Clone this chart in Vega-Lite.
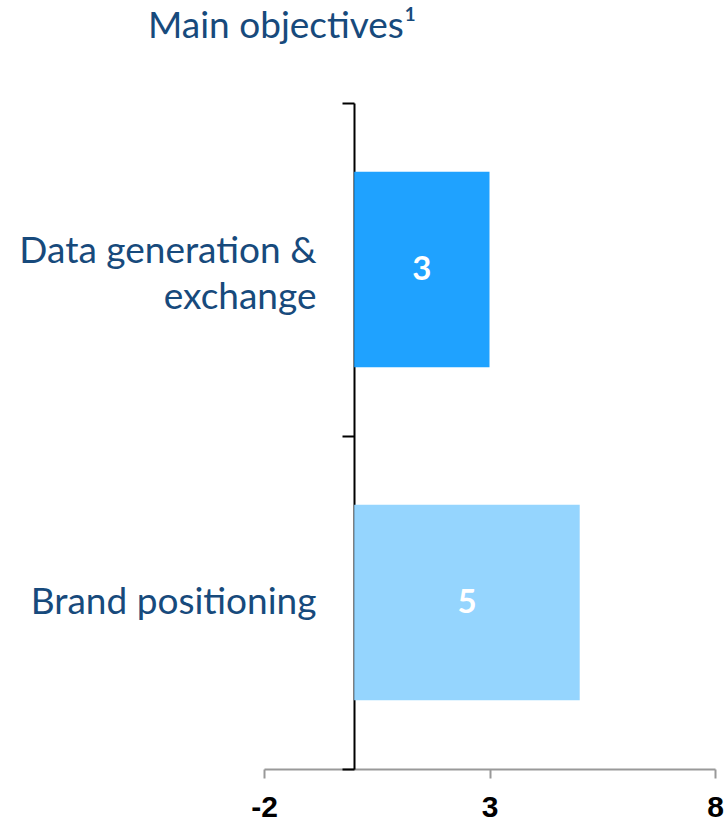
{
  "$schema": "https://vega.github.io/schema/vega-lite/v6.json",
  "width": 451,
  "height": 666,
  "autosize": "none",
  "padding": {"left": 264, "top": 103, "right": 9, "bottom": 55},
  "background": "white",
  "config": {"view": {"stroke": null}},
  "title": {
    "text": "Main objectives¹",
    "anchor": "start",
    "frame": "group",
    "dx": -116,
    "offset": 38,
    "font": "Lato",
    "fontSize": 37,
    "fontWeight": "normal",
    "color": "#174A7C"
  },
  "data": {
    "values": [
      {"objective": "Data generation &|exchange", "value": 3},
      {"objective": "Brand positioning", "value": 5}
    ]
  },
  "encoding": {
    "y": {
      "field": "objective",
      "type": "nominal",
      "sort": null,
      "scale": {"padding": 0},
      "axis": {
        "title": null,
        "offset": -90,
        "tickBand": "extent",
        "domainColor": "#000000",
        "domainWidth": 2,
        "tickColor": "#000000",
        "tickWidth": 2,
        "tickSize": 12,
        "labelPadding": 26,
        "labelFont": "Lato",
        "labelFontSize": 37,
        "labelColor": "#174A7C",
        "labelLineHeight": 46,
        "labelOffset": {"condition": {"test": "indexof(datum.label, '|') >= 0", "value": -18}, "value": 0},
        "labelExpr": "split(datum.label, '|')",
        "labelLimit": 400
      }
    }
  },
  "layer": [
    {
      "mark": {"type": "bar", "height": {"band": 0.587}},
      "encoding": {
        "x": {
          "field": "value",
          "type": "quantitative",
          "scale": {"domain": [-2, 8], "nice": false, "zero": false},
          "axis": {
            "title": null,
            "values": [-2, 3, 8],
            "labelExpr": "'' + datum.value",
            "labelFlush": false,
            "grid": false,
            "domainColor": "#999999",
            "domainWidth": 2,
            "tickColor": "#999999",
            "tickWidth": 2,
            "tickSize": 9,
            "labelFont": "Liberation Sans",
            "labelFontSize": 30,
            "labelFontWeight": "bold",
            "labelColor": "#000000",
            "labelPadding": 14
          }
        },
        "x2": {"datum": 0},
        "color": {
          "field": "objective",
          "type": "nominal",
          "legend": null,
          "scale": {"domain": ["Data generation &|exchange", "Brand positioning"], "range": ["#1FA2FF", "#95D5FE"]}
        }
      }
    },
    {
      "transform": [{"calculate": "datum.value / 2", "as": "mid"}],
      "mark": {"type": "text", "font": "Lato", "fontSize": 33, "fontWeight": "bold", "color": "white"},
      "encoding": {
        "x": {"field": "mid", "type": "quantitative"},
        "text": {"field": "value", "type": "quantitative"}
      }
    }
  ]
}
